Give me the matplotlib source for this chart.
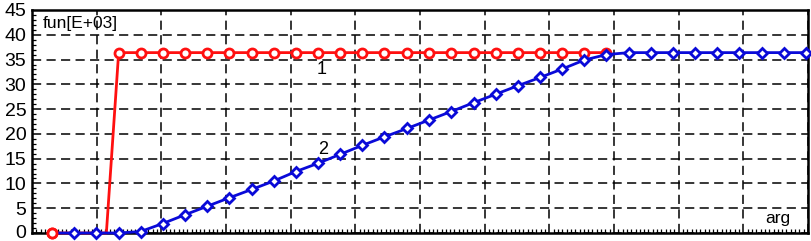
import matplotlib
matplotlib.use('Agg')
import matplotlib.pyplot as plt
import matplotlib.transforms as mtransforms
from matplotlib.ticker import MultipleLocator

# --- datos ---
arg = [0.31, 0.65, 0.99, 1.34, 1.68, 2.02, 2.37, 2.71, 3.05, 3.40,
       3.74, 4.08, 4.43, 4.77, 5.11, 5.45, 5.80, 6.14, 6.48, 6.83,
       7.17, 7.51, 7.86, 8.20, 8.54, 8.88, 9.23, 9.57, 9.91, 10.26,
       10.60, 10.94, 11.29, 11.63, 11.97]

fun2 = [0, 0, 0, 0, 0.3, 1.9, 3.7, 5.4, 7.1, 8.8,
        10.5, 12.4, 14.1, 15.9, 17.7, 19.4, 21.1, 22.8, 24.5, 26.3,
        28.0, 29.7, 31.4, 33.1, 34.9, 36.0, 36.4, 36.4, 36.4, 36.4,
        36.4, 36.4, 36.4, 36.4, 36.4]

# curva 1: salto brusco y luego constante
arg1 = [0.31, 1.15] + arg[3:26]
fun1 = [0, 0] + [36.4] * 23

yticks = [0, 5, 10, 15, 20, 25, 30, 35, 40, 45]

RED = '#ff1010'
BLUE = '#0a0ad8'

plt.rcParams['font.family'] = ['Liberation Sans', 'DejaVu Sans']

fig = plt.figure(figsize=(8.12, 2.41), dpi=100)
ax = fig.add_axes([32 / 812, 1 - 233 / 241, (808 - 32) / 812, (233 - 10) / 241])

ax.set_xlim(0, 12)
ax.set_ylim(0, 45)

# curva 1 (roja)
ax.plot(arg1, fun1, color=RED, lw=2.0, zorder=3, clip_on=False)
ax.plot([arg1[0]] + arg1[2:], [fun1[0]] + fun1[2:], ls='none', marker='o', ms=6.5,
        mfc='white', mec=RED, mew=2.0, zorder=3, clip_on=False)

# curva 2 (azul)
ax.plot(arg, fun2, color=BLUE, lw=2.0, zorder=4, clip_on=False)
ax.plot(arg[1:], fun2[1:], ls='none', marker='D', ms=4.8, mfc='white',
        mec=BLUE, mew=2.0, zorder=5, clip_on=False)

# primer marcador rojo encima de la linea azul
ax.plot(arg1[:1], fun1[:1], ls='none', marker='o', ms=6.5, mfc='white',
        mec=RED, mew=2.0, zorder=6, clip_on=False)

# rejilla punteada
ax.xaxis.set_major_locator(MultipleLocator(1))
ax.xaxis.set_minor_locator(MultipleLocator(1 / 15))
ax.set_yticks(yticks)
ax.yaxis.set_minor_locator(MultipleLocator(1))
ax.grid(True, which='major', color='#000000', lw=1.1, ls=(0, (6, 3.5)))

ax.tick_params(axis='x', which='both', direction='in', labelbottom=False)
ax.tick_params(axis='x', which='major', length=0)
ax.tick_params(axis='x', which='minor', length=3, width=0.9)
ax.tick_params(axis='y', which='major', direction='in', length=0, labelsize=14, pad=4)
ax.tick_params(axis='y', which='minor', direction='in', length=3, width=0.9)

# subir un poco el "0" para que no quede cortado en el borde
fig.canvas.draw()
lbl0 = ax.get_yticklabels()[0]
lbl0.set_transform(lbl0.get_transform() +
                   mtransforms.ScaledTranslation(0, 2 / 100, fig.dpi_scale_trans))

for s in ax.spines.values():
    s.set_linewidth(1.8)
    s.set_color('black')

# textos
ax.text(0.165, 41.4, 'fun[E+03]', fontsize=12.5, ha='left', va='baseline')
ax.text(11.72, 2.1, 'arg', fontsize=12.5, ha='right', va='baseline')
ax.text(4.48, 32.9, '1', fontsize=13, ha='center', va='center')
ax.text(4.5, 16.8, '2', fontsize=13, ha='center', va='center')

fig.savefig('out.png', dpi=100)
plt.close(fig)
